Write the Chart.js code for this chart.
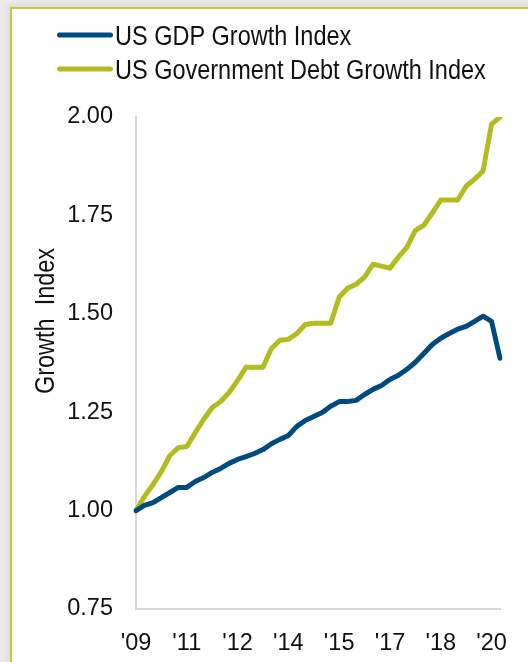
<!DOCTYPE html>
<html>
<head>
<meta charset="utf-8">
<title>US GDP vs Government Debt Growth Index</title>
<script src="https://cdn.jsdelivr.net/npm/chart.js@4.4.1/dist/chart.umd.min.js"></script>
<style>
  html, body { margin: 0; padding: 0; }
  body { width: 528px; height: 662px; background: #ebebeb; overflow: hidden; position: relative; }
  #panel { position: absolute; left: 10px; top: 7px; width: 560px; height: 700px; background: #fff;
           border: 2px solid #c4ca3e; box-shadow: -3px -3px 6px rgba(0,0,0,0.06); }
  #wrap { position: absolute; left: 0; top: 0; width: 528px; height: 662px; }
</style>
</head>
<body>
<div id="panel"></div>
<div id="wrap"><canvas id="growth"></canvas></div>
<script>
// quarterly, 2009Q3 .. 2020Q2
var quarters = [
  '2009Q3', '2009Q4',
  '2010Q1', '2010Q2', '2010Q3', '2010Q4',
  '2011Q1', '2011Q2', '2011Q3', '2011Q4',
  '2012Q1', '2012Q2', '2012Q3', '2012Q4',
  '2013Q1', '2013Q2', '2013Q3', '2013Q4',
  '2014Q1', '2014Q2', '2014Q3', '2014Q4',
  '2015Q1', '2015Q2', '2015Q3', '2015Q4',
  '2016Q1', '2016Q2', '2016Q3', '2016Q4',
  '2017Q1', '2017Q2', '2017Q3', '2017Q4',
  '2018Q1', '2018Q2', '2018Q3', '2018Q4',
  '2019Q1', '2019Q2', '2019Q3', '2019Q4',
  '2020Q1', '2020Q2'
];

var gdpIndex = [
  1.000, 1.013, 1.020, 1.033, 1.046, 1.059, 1.059, 1.074, 1.084, 1.097,
  1.107, 1.120, 1.130, 1.137, 1.145, 1.155, 1.170, 1.181, 1.191, 1.214,
  1.229, 1.239, 1.249, 1.265, 1.277, 1.277, 1.280, 1.295, 1.308, 1.318,
  1.333, 1.344, 1.359, 1.377, 1.399, 1.422, 1.438, 1.450, 1.461, 1.468,
  1.481, 1.494, 1.481, 1.387
];

var debtIndex = [
  1.000, 1.036, 1.066, 1.099, 1.140, 1.160, 1.163, 1.198, 1.232, 1.262,
  1.277, 1.300, 1.331, 1.364, 1.364, 1.364, 1.412, 1.433, 1.435, 1.450,
  1.473, 1.476, 1.476, 1.476, 1.542, 1.565, 1.575, 1.593, 1.626, 1.621,
  1.616, 1.644, 1.669, 1.712, 1.725, 1.756, 1.789, 1.789, 1.789, 1.824,
  1.842, 1.863, 1.982, 2.000
];

// shown on every 6th quarter
var tickLabels = ["'09", "'11", "'12", "'14", "'15", "'17", "'18", "'20"];
var tickEvery = 6;

var FONT = '"Liberation Sans", Arial, sans-serif';

// legend + rotated axis title drawn by hand (text squeezed a little, like the original)
var sideText = {
  id: 'sideText',
  afterDraw: function(chart) {
    var ctx = chart.ctx;
    ctx.save();
    ctx.font = '27px ' + FONT;
    ctx.fillStyle = '#111';
    ctx.textBaseline = 'alphabetic';
    chart.data.datasets.forEach(function(ds, i) {
      var y = 35 + i * 34;
      ctx.strokeStyle = ds.borderColor;
      ctx.lineWidth = 5;
      ctx.lineCap = 'round';
      ctx.beginPath();
      ctx.moveTo(59.5, y);
      ctx.lineTo(110.5, y);
      ctx.stroke();
      ctx.save();
      ctx.translate(115, y + 9.5);
      ctx.scale(0.87, 1);
      ctx.fillText(ds.label, 0, 0);
      ctx.restore();
    });
    ctx.translate(47, 321);
    ctx.rotate(-Math.PI / 2);
    ctx.scale(0.87, 1);
    ctx.textAlign = 'center';
    ctx.textBaseline = 'middle';
    ctx.fillText('Growth  Index', 0, 0);
    ctx.restore();
  }
};

new Chart('growth', {
  type: 'line',
  data: {
    labels: quarters,
    datasets: [
      {
        label: 'US GDP Growth Index',
        data: gdpIndex,
        borderColor: '#004a7f',
        borderWidth: 5,
        borderJoinStyle: 'round',
        borderCapStyle: 'round',
        pointRadius: 0,
        fill: false,
        tension: 0
      },
      {
        label: 'US Government Debt Growth Index',
        data: debtIndex,
        borderColor: '#b2bc1f',
        borderWidth: 5,
        borderJoinStyle: 'round',
        borderCapStyle: 'round',
        pointRadius: 0,
        fill: false,
        tension: 0
      }
    ]
  },
  options: {
    responsive: true,
    maintainAspectRatio: false,
    animation: false,
    devicePixelRatio: 1,
    layout: { padding: { top: 117, right: 28, bottom: 0, left: 0 } },
    plugins: {
      legend: { display: false },
      tooltip: { enabled: false }
    },
    scales: {
      x: {
        grid: { display: false, drawTicks: false },
        border: { display: true, color: '#d9d9d9', width: 2 },
        ticks: {
          autoSkip: false,
          maxRotation: 0,
          minRotation: 0,
          padding: 20,
          color: '#111',
          font: { family: FONT, size: 23.5 },
          callback: function(value, index) {
            return index % tickEvery === 0 ? tickLabels[index / tickEvery] : '';
          }
        },
        afterFit: function(scale) { scale.height = 53; }
      },
      y: {
        min: 0.75,
        max: 2.0,
        grid: { display: false, drawTicks: false },
        border: { display: true, color: '#d9d9d9', width: 2 },
        ticks: {
          stepSize: 0.25,
          padding: 23,
          color: '#111',
          font: { family: FONT, size: 23.5 },
          callback: function(v) { return v.toFixed(2); }
        },
        afterFit: function(scale) { scale.width = 136; }
      }
    }
  },
  plugins: [sideText]
});
</script>
</body>
</html>
